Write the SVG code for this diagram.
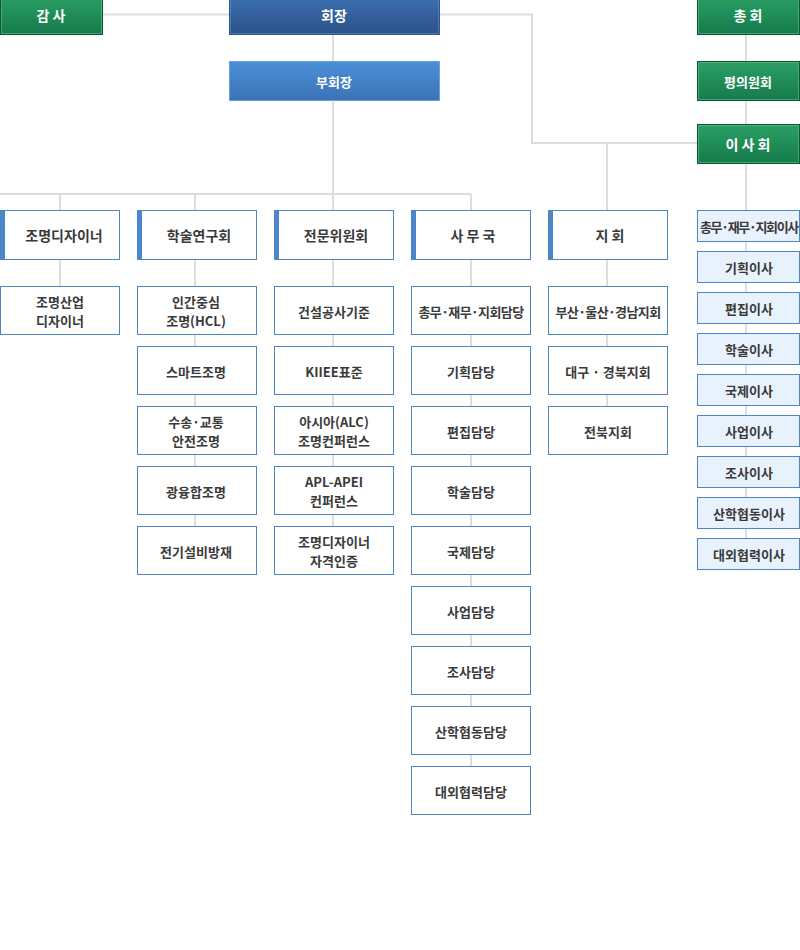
<svg xmlns="http://www.w3.org/2000/svg" width="800" height="950" viewBox="0 0 800 950">
<defs>
<linearGradient id="gGreen" x1="0" y1="0" x2="0" y2="1"><stop offset="0" stop-color="#2aa065"/><stop offset="1" stop-color="#167a4b"/></linearGradient>
<linearGradient id="gBoss" x1="0" y1="0" x2="0" y2="1"><stop offset="0" stop-color="#3d72b4"/><stop offset="1" stop-color="#2c5088"/></linearGradient>
<linearGradient id="gVice" x1="0" y1="0" x2="0" y2="1"><stop offset="0" stop-color="#4a90d8"/><stop offset="1" stop-color="#3c72b6"/></linearGradient>
</defs>
<style>
text{font-family:"Noto Sans CJK KR","Noto Sans",sans-serif;text-anchor:middle;dominant-baseline:central}
.green rect.b{fill:url(#gGreen);stroke:#0c5731;stroke-width:1}
.green rect.i{fill:none;stroke:#5cc08d;stroke-width:1;opacity:.6}
.wt{fill:#fff;font-weight:700;font-size:14px}
.box{fill:#fff;stroke:#4a86c8;stroke-width:1}
.bar{fill:#4a86c8}
.lt{fill:#e8f2fd;stroke:#4a86c8;stroke-width:1}
.t2{fill:#3a3a3a;font-size:14px;font-weight:700}
.t3{fill:#3a3a3a;font-size:13px;font-weight:700}
.t4{fill:#3a3a3a;font-size:13px;font-weight:700;letter-spacing:-0.6px}
.c{stroke:#dddddd;stroke-width:2;fill:none}
</style>
<rect width="800" height="950" fill="#fff"/>
<g id="connectors">
<path class="c" d="M102 14.5H229M439 14.5H532V143H697M607 143V210"/>
<path class="c" d="M333 34V61M333 100V194M0 194H471M60 194V210M195 194V210M333 194V210M471 194V210"/>
<path class="c" d="M746 34V61M746 100V124M746 163V538"/>
<path class="c" d="M60 259V286M195 259V526M333 259V526M471 259V766M607 259V406"/>
</g>
<g id="n-gamsa" class="green"><rect class="b" x="0.5" y="-5" width="102" height="39.5"/><rect class="i" x="1.5" y="-4" width="100" height="37.5"/><text class="wt" x="51" y="15">감 사</text></g>
<g id="n-hoejang"><rect x="229.5" y="-5" width="210" height="39.5" fill="url(#gBoss)" stroke="#2a5796"/><rect x="230.5" y="-4" width="208" height="37.5" fill="none" stroke="#6d95cc" opacity=".5"/><text class="wt" x="334" y="15" font-size="15">회장</text></g>
<g id="n-buhoejang"><rect x="229.5" y="61.5" width="210" height="39" fill="url(#gVice)" stroke="#6aa2e0"/><text class="wt" x="334" y="81" style="font-size:13px">부회장</text></g>
<g id="n-chonghoe" class="green"><rect class="b" x="697.5" y="-5" width="102" height="39.5"/><rect class="i" x="698.5" y="-4" width="100" height="37.5"/><text class="wt" x="748" y="15">총 회</text></g>
<g id="n-pyeong" class="green"><rect class="b" x="697.5" y="61.5" width="102" height="39"/><rect class="i" x="698.5" y="62.5" width="100" height="37"/><text class="wt" x="748" y="81" style="font-size:13px">평의원회</text></g>
<g id="n-isahoe" class="green"><rect class="b" x="697.5" y="124.5" width="102" height="39"/><rect class="i" x="698.5" y="125.5" width="100" height="37"/><text class="wt" x="748" y="144">이 사 회</text></g>

<g id="n-designer"><rect class="box" x="0.5" y="210.5" width="119" height="49"/><rect class="bar" x="0" y="210" width="5" height="50"/><text class="t2" x="64" y="235">조명디자이너</text></g>
<g id="n-academic"><rect class="box" x="137.5" y="210.5" width="119" height="49"/><rect class="bar" x="137" y="210" width="5" height="50"/><text class="t2" x="199" y="235">학술연구회</text></g>
<g id="n-expert"><rect class="box" x="274.5" y="210.5" width="119" height="49"/><rect class="bar" x="274" y="210" width="5" height="50"/><text class="t2" x="336" y="235">전문위원회</text></g>
<g id="n-office"><rect class="box" x="411.5" y="210.5" width="119" height="49"/><rect class="bar" x="411" y="210" width="5" height="50"/><text class="t2" x="473" y="235">사 무 국</text></g>
<g id="n-branch"><rect class="box" x="548.5" y="210.5" width="119" height="49"/><rect class="bar" x="548" y="210" width="5" height="50"/><text class="t2" x="610" y="235">지 회</text></g>

<g id="n-d1"><rect class="box" x="0.5" y="286.5" width="119" height="48"/><text class="t3" x="60" y="301">조명산업</text><text class="t3" x="60" y="320">디자이너</text></g>

<g id="n-a1"><rect class="box" x="137.5" y="286.5" width="119" height="48"/><text class="t3" x="196" y="301">인간중심</text><text class="t3" x="196" y="320">조명(HCL)</text></g>
<g id="n-a2"><rect class="box" x="137.5" y="346.5" width="119" height="48"/><text class="t3" x="196" y="371">스마트조명</text></g>
<g id="n-a3"><rect class="box" x="137.5" y="406.5" width="119" height="48"/><text class="t3" x="196" y="421">수송·교통</text><text class="t3" x="196" y="440">안전조명</text></g>
<g id="n-a4"><rect class="box" x="137.5" y="466.5" width="119" height="48"/><text class="t3" x="196" y="491">광융합조명</text></g>
<g id="n-a5"><rect class="box" x="137.5" y="526.5" width="119" height="48"/><text class="t3" x="196" y="551">전기설비방재</text></g>

<g id="n-e1"><rect class="box" x="274.5" y="286.5" width="119" height="48"/><text class="t3" x="334" y="311">건설공사기준</text></g>
<g id="n-e2"><rect class="box" x="274.5" y="346.5" width="119" height="48"/><text class="t3" x="334" y="371">KIIEE표준</text></g>
<g id="n-e3"><rect class="box" x="274.5" y="406.5" width="119" height="48"/><text class="t3" x="334" y="421">아시아(ALC)</text><text class="t3" x="334" y="440">조명컨퍼런스</text></g>
<g id="n-e4"><rect class="box" x="274.5" y="466.5" width="119" height="48"/><text class="t3" x="334" y="481">APL-APEI</text><text class="t3" x="334" y="500">컨퍼런스</text></g>
<g id="n-e5"><rect class="box" x="274.5" y="526.5" width="119" height="48"/><text class="t3" x="334" y="541">조명디자이너</text><text class="t3" x="334" y="560">자격인증</text></g>

<g id="n-o1"><rect class="box" x="411.5" y="286.5" width="119" height="48"/><text class="t4" x="471" y="311">총무·재무·지회담당</text></g>
<g id="n-o2"><rect class="box" x="411.5" y="346.5" width="119" height="48"/><text class="t3" x="471" y="371">기획담당</text></g>
<g id="n-o3"><rect class="box" x="411.5" y="406.5" width="119" height="48"/><text class="t3" x="471" y="431">편집담당</text></g>
<g id="n-o4"><rect class="box" x="411.5" y="466.5" width="119" height="48"/><text class="t3" x="471" y="491">학술담당</text></g>
<g id="n-o5"><rect class="box" x="411.5" y="526.5" width="119" height="48"/><text class="t3" x="471" y="551">국제담당</text></g>
<g id="n-o6"><rect class="box" x="411.5" y="586.5" width="119" height="48"/><text class="t3" x="471" y="611">사업담당</text></g>
<g id="n-o7"><rect class="box" x="411.5" y="646.5" width="119" height="48"/><text class="t3" x="471" y="671">조사담당</text></g>
<g id="n-o8"><rect class="box" x="411.5" y="706.5" width="119" height="48"/><text class="t3" x="471" y="731">산학협동담당</text></g>
<g id="n-o9"><rect class="box" x="411.5" y="766.5" width="119" height="48"/><text class="t3" x="471" y="791">대외협력담당</text></g>

<g id="n-b1"><rect class="box" x="548.5" y="286.5" width="119" height="48"/><text class="t4" x="608" y="311">부산·울산·경남지회</text></g>
<g id="n-b2"><rect class="box" x="548.5" y="346.5" width="119" height="48"/><text class="t3" x="608" y="371">대구 · 경북지회</text></g>
<g id="n-b3"><rect class="box" x="548.5" y="406.5" width="119" height="48"/><text class="t3" x="608" y="431">전북지회</text></g>

<g id="n-r1"><rect class="lt" x="697.5" y="210.5" width="102" height="31"/><text class="t3" x="749" y="226" style="letter-spacing:-1.3px">총무·재무·지회이사</text></g>
<g id="n-r2"><rect class="lt" x="697.5" y="251.5" width="102" height="31"/><text class="t3" x="749" y="267">기획이사</text></g>
<g id="n-r3"><rect class="lt" x="697.5" y="292.5" width="102" height="31"/><text class="t3" x="749" y="308">편집이사</text></g>
<g id="n-r4"><rect class="lt" x="697.5" y="333.5" width="102" height="31"/><text class="t3" x="749" y="349">학술이사</text></g>
<g id="n-r5"><rect class="lt" x="697.5" y="374.5" width="102" height="31"/><text class="t3" x="749" y="390">국제이사</text></g>
<g id="n-r6"><rect class="lt" x="697.5" y="415.5" width="102" height="31"/><text class="t3" x="749" y="431">사업이사</text></g>
<g id="n-r7"><rect class="lt" x="697.5" y="456.5" width="102" height="31"/><text class="t3" x="749" y="472">조사이사</text></g>
<g id="n-r8"><rect class="lt" x="697.5" y="497.5" width="102" height="31"/><text class="t3" x="749" y="513">산학협동이사</text></g>
<g id="n-r9"><rect class="lt" x="697.5" y="538.5" width="102" height="31"/><text class="t3" x="749" y="554">대외협력이사</text></g>
</svg>
